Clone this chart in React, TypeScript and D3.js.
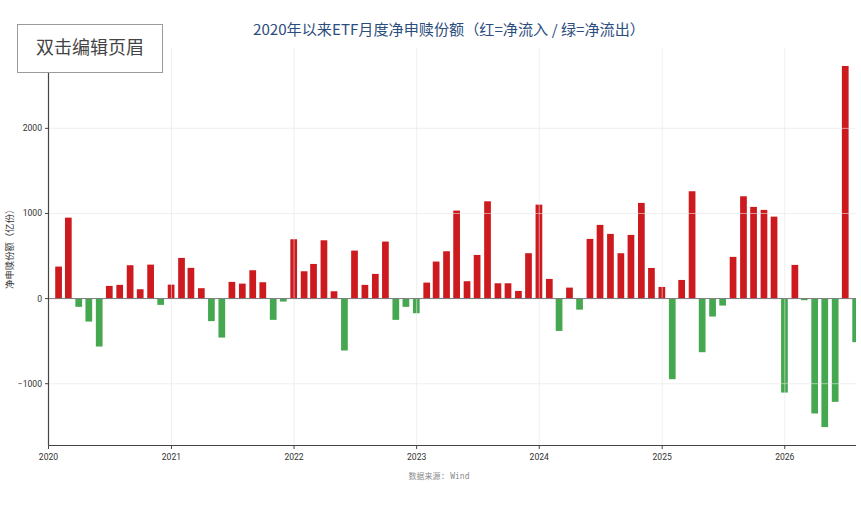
import * as d3 from "d3";

// monthly net creation/redemption (亿份), one array per year, month-end dates
const flows2020 = [376, 951, -97, -270, -563, 149, 161, 392, 110, 399, -74, 164];
const flows2021 = [478, 361, 122, -265, -458, 196, 176, 333, 192, -250, -35, 697];
const flows2022 = [321, 407, 685, 86, -610, 564, 161, 290, 670, -250, -97, -172];
const flows2023 = [188, 435, 556, 1034, 204, 513, 1143, 180, 180, 90, 533, 1104];
const flows2024 = [231, -380, 129, -130, 701, 866, 760, 533, 748, 1124, 360, 137];
const flows2025 = [-947, 219, 1261, -630, -211, -82, 490, 1202, 1077, 1042, 963, -1104];
const flows2026 = [396, -19, -1350, -1510, -1213, 2733, -512];

const years = [2020, 2021, 2022, 2023, 2024, 2025, 2026];
const flowsByYear = [flows2020, flows2021, flows2022, flows2023, flows2024, flows2025, flows2026];
const yTicks = [-1000, 0, 1000, 2000];

const title = "2020年以来ETF月度净申赎份额（红=净流入 / 绿=净流出）";
const yLabel = "净申赎份额（亿份）";
const source = "数据来源: Wind";

type Row = { date: Date; value: number };
const rows: Row[] = flowsByYear.flatMap((vals, i) =>
  vals.map((value, m) => ({ date: new Date(years[i], m + 1, 0), value }))
);

const W = 861;
const H = 513;
const left = 48.5;
const right = 856;
const top = 48;
const bottom = 445.5;

const RED = "#cc1a1f";
const GREEN = "#45a850";

export default function App() {
  const x = d3
    .scaleTime()
    .domain([new Date(2020, 0, 1), new Date(2026, 7, 1)])
    .range([left, right]);
  const y = d3.scaleLinear().domain([-1726, 2944]).range([bottom, top]);

  const barW = x(new Date(2020, 0, 21)) - x(new Date(2020, 0, 1));
  const yearTicks = years.map((yr) => new Date(yr, 0, 1));
  const tickFont = "Roboto, 'Liberation Sans', sans-serif";

  return (
    <svg
      width={W}
      height={H}
      style={{ position: "absolute", left: 0, top: 0, background: "#fff" }}
    >
      <defs>
        <clipPath id="plot">
          <rect x={left} y={top} width={right - left} height={bottom - top} />
        </clipPath>
      </defs>

      {/* bars */}
      <g clipPath="url(#plot)">
        {rows.map((d, i) => (
          <rect
            key={i}
            x={x(d.date) - barW / 2}
            y={y(Math.max(0, d.value))}
            width={barW}
            height={Math.abs(y(d.value) - y(0))}
            fill={d.value >= 0 ? RED : GREEN}
          />
        ))}
      </g>

      {/* grid drawn over the bars, faint */}
      <g stroke="#e6e6e6" strokeWidth={0.8} opacity={0.75}>
        {yearTicks.slice(1).map((t, i) => (
          <line key={"gx" + i} x1={x(t)} x2={x(t)} y1={top} y2={bottom} />
        ))}
        {yTicks
          .filter((v) => v !== 0)
          .map((v) => (
            <line key={"gy" + v} x1={left} x2={right} y1={y(v)} y2={y(v)} />
          ))}
      </g>

      {/* zero line */}
      <line x1={left} x2={right} y1={y(0)} y2={y(0)} stroke="#7a7a7a" strokeWidth={1} />

      {/* spines */}
      <line x1={left} x2={left} y1={top} y2={bottom} stroke="#444" strokeWidth={1.2} />
      <line x1={left} x2={right} y1={bottom} y2={bottom} stroke="#444" strokeWidth={1.2} />

      {/* x ticks */}
      {yearTicks.map((t, i) => (
        <g key={"xt" + i} transform={`translate(${x(t)},${bottom})`}>
          <line y1={0} y2={3.5} stroke="#444" strokeWidth={1} />
          <text
            y={14.5}
            textAnchor="middle"
            fontSize={8.6}
            fontFamily={tickFont}
            fill="#333"
          >
            {d3.timeFormat("%Y")(t)}
          </text>
        </g>
      ))}

      {/* y ticks */}
      {yTicks.map((v) => (
        <g key={"yt" + v} transform={`translate(${left},${y(v)})`}>
          <line x1={-3.5} x2={0} stroke="#444" strokeWidth={1} />
          <text
            x={-6.5}
            dy="0.34em"
            textAnchor="end"
            fontSize={8.6}
            fontFamily={tickFont}
            fill="#333"
          >
            {d3.format("")(v).replace("-", "−")}
          </text>
        </g>
      ))}

      {/* y label */}
      <text
        transform={`translate(12.5,${(top + bottom) / 2}) rotate(-90)`}
        textAnchor="middle"
        fontSize={9.4}
        fontFamily="'Noto Sans CJK SC', sans-serif"
        fill="#333"
      >
        {yLabel}
      </text>

      {/* title */}
      <text
        x={449}
        y={35}
        textAnchor="middle"
        fontSize={14.5}
        fontFamily="'Noto Sans CJK SC', sans-serif"
        fill="#2b4d7d"
        textLength={392}
        lengthAdjust="spacingAndGlyphs"
      >
        {title}
      </text>

      {/* source note */}
      <text
        x={439}
        y={478.5}
        textAnchor="middle"
        fontSize={8}
        fontFamily="'DejaVu Sans Mono', 'Noto Sans CJK SC', monospace"
        fill="#8a8a8a"
      >
        {source}
      </text>

      {/* page-header overlay box */}
      <rect x={17.5} y={24.5} width={145} height={48} fill="#fff" stroke="#9a9a9a" strokeWidth={1} />
      <text
        x={90}
        y={54}
        textAnchor="middle"
        fontSize={18}
        fontFamily="'Noto Sans CJK SC', sans-serif"
        fill="#444"
      >
        双击编辑页眉
      </text>
    </svg>
  );
}
